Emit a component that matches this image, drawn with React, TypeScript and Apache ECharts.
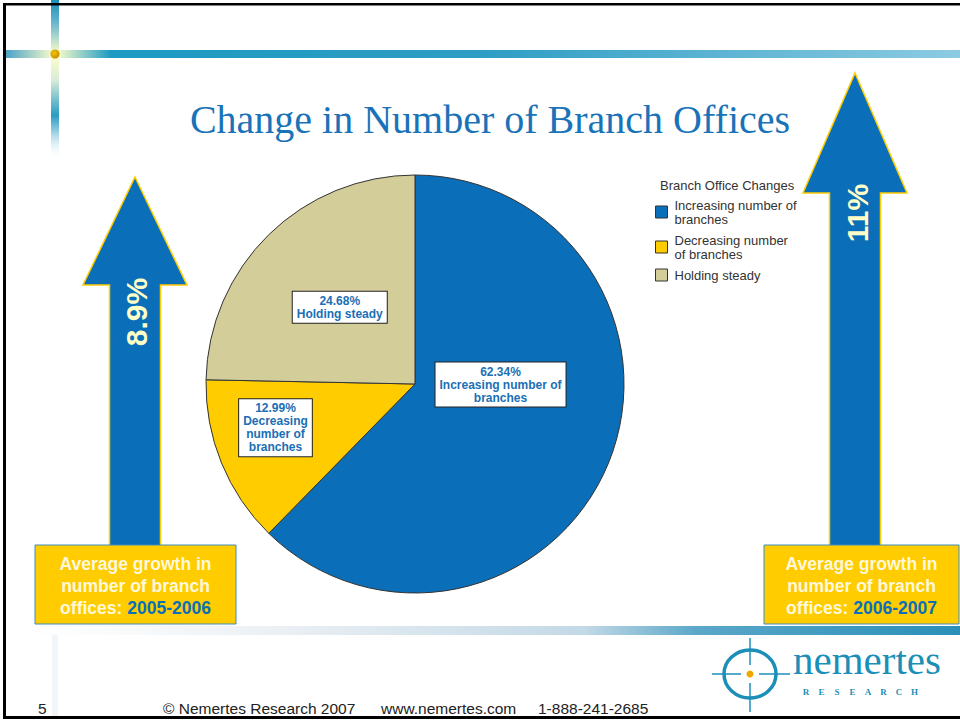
import React, { useEffect, useRef } from "react";
import * as echarts from "echarts";

// ---- data ----
const categories = [
  "Increasing number of branches",
  "Decreasing number of branches",
  "Holding steady",
];
const values = [62.34, 12.99, 24.68];
const legendLabels = [
  "Increasing number of\nbranches",
  "Decreasing number\nof branches",
  "Holding steady",
];
const sliceLabels = [
  "Increasing number of\nbranches",
  "Decreasing\nnumber of\nbranches",
  "Holding steady",
];
const sliceColors = ["#0a6fb8", "#ffcc00", "#d3cd9a"];
const growthValues = ["8.9%", "11%"];
const growthPeriods = ["2005-2006", "2006-2007"];
const chartTitle = "Change in Number of Branch Offices";
const legendTitle = "Branch Office Changes";
const footerParts = ["© Nemertes Research 2007", "www.nemertes.com", "1-888-241-2685"];
const pageNumber = "5";

// label nudges (style)
const labelNudges = [
  [-14, -40],
  [-40, 3],
  [0, 0],
];

const BLUE = "#0a6fb8";
const GOLD = "#ffcc00";
const TEAL = "#1c8fb8";

function arrow(x: number, tipY: number, headY: number, bottomY: number, headHalf: number, shaftHalf: number) {
  return {
    type: "polygon",
    shape: {
      points: [
        [x, tipY],
        [x + headHalf, headY],
        [x + shaftHalf, headY],
        [x + shaftHalf, bottomY],
        [x - shaftHalf, bottomY],
        [x - shaftHalf, headY],
        [x - headHalf, headY],
      ],
    },
    style: { fill: BLUE, stroke: GOLD, lineWidth: 1.5 },
    z: 5,
  };
}

function growthBox(x: number, y: number, w: number, h: number, period: string) {
  return [
    {
      type: "rect",
      shape: { x, y, width: w, height: h },
      style: { fill: GOLD, stroke: "#3a8cc0", lineWidth: 1 },
      z: 6,
    },
    {
      type: "text",
      x: x + w / 2,
      y: y + h / 2 + 1,
      z: 7,
      style: {
        text: "Average growth in\nnumber of branch\noffices: {p|" + period + "}",
        align: "center",
        verticalAlign: "middle",
        fill: "#fff8dc",
        fontSize: 17.5,
        fontWeight: "bold",
        fontFamily: "Arial, 'Liberation Sans', sans-serif",
        lineHeight: 22,
        rich: {
          p: {
            fill: BLUE,
            fontSize: 17.5,
            fontWeight: "bold",
            fontFamily: "Arial, 'Liberation Sans', sans-serif",
            lineHeight: 22,
          },
        },
      },
    },
  ];
}

function logo() {
  const cx = 750;
  const cy = 674;
  const els: any[] = [
    {
      type: "ellipse",
      shape: { cx, cy, rx: 26, ry: 24 },
      style: { fill: "none", stroke: TEAL, lineWidth: 3.5 },
      z: 5,
    },
    {
      type: "line",
      shape: { x1: cx, y1: 638, x2: cx, y2: 665 },
      style: { stroke: TEAL, lineWidth: 1.5 },
      z: 5,
    },
    {
      type: "line",
      shape: { x1: cx, y1: 683, x2: cx, y2: 712 },
      style: { stroke: TEAL, lineWidth: 1.5 },
      z: 5,
    },
    {
      type: "line",
      shape: { x1: 712, y1: cy, x2: 741, y2: cy },
      style: { stroke: TEAL, lineWidth: 1.5 },
      z: 5,
    },
    {
      type: "line",
      shape: { x1: 759, y1: cy, x2: 790, y2: cy },
      style: { stroke: TEAL, lineWidth: 1.5 },
      z: 5,
    },
    {
      type: "circle",
      shape: { cx, cy, r: 3.5 },
      style: { fill: "#f0a800" },
      z: 6,
    },
    {
      type: "text",
      x: 793,
      y: 680,
      z: 6,
      style: {
        text: "nemertes",
        fill: TEAL,
        fontSize: 41,
        fontFamily: "'Liberation Serif', 'Times New Roman', serif",
        align: "left",
        verticalAlign: "bottom",
      },
    },
  ];
  const letters = "RESEARCH".split("");
  letters.forEach((ch, i) => {
    els.push({
      type: "text",
      x: 806 + i * 15.5,
      y: 692,
      z: 6,
      style: {
        text: ch,
        fill: TEAL,
        fontSize: 9,
        fontWeight: "bold",
        fontFamily: "'Liberation Serif', serif",
        align: "center",
        verticalAlign: "middle",
      },
    });
  });
  return els;
}

export default function App() {
  const ref = useRef<HTMLDivElement>(null);

  useEffect(() => {
    if (!ref.current) return;
    const chart = echarts.init(ref.current, null, { renderer: "svg" });

    const graphics: any[] = [
      // frame
      { type: "rect", shape: { x: 3, y: 3, width: 957, height: 2.5 }, style: { fill: "#000" }, z: 10 },
      { type: "rect", shape: { x: 3, y: 3, width: 3, height: 716 }, style: { fill: "#000" }, z: 10 },
      { type: "rect", shape: { x: 3, y: 716, width: 957, height: 3 }, style: { fill: "#000" }, z: 10 },
      // top decorative bar
      {
        type: "rect",
        shape: { x: 6, y: 50, width: 954, height: 8 },
        style: {
          fill: new echarts.graphic.LinearGradient(0, 0, 1, 0, [
            { offset: 0, color: "#4aa3c6" },
            { offset: 0.052, color: "#ffffcc" },
            { offset: 0.11, color: "#1d9ac2" },
            { offset: 0.5, color: "#2e9dc4" },
            { offset: 1, color: "#8ccbe2" },
          ]),
        },
        z: 1,
      },
      {
        type: "rect",
        shape: { x: 51, y: 0, width: 8, height: 160 },
        style: {
          fill: new echarts.graphic.LinearGradient(0, 0, 0, 1, [
            { offset: 0, color: "#1b8fb5" },
            { offset: 0.12, color: "#5aaecc" },
            { offset: 0.34, color: "#ffffcc" },
            { offset: 0.5, color: "#d8ecd8" },
            { offset: 0.72, color: "#2a9cc3" },
            { offset: 0.85, color: "#b6dcea" },
            { offset: 1, color: "rgba(255,255,255,0)" },
          ]),
        },
        z: 1,
      },
      {
        type: "circle",
        shape: { cx: 55, cy: 54, r: 4.5 },
        style: {
          fill: new echarts.graphic.RadialGradient(0.4, 0.4, 0.6, [
            { offset: 0, color: "#f5c400" },
            { offset: 1, color: "#c89000" },
          ]),
        },
        z: 2,
      },
      // bottom decorative bar
      {
        type: "rect",
        shape: { x: 20, y: 626, width: 940, height: 9 },
        style: {
          fill: new echarts.graphic.LinearGradient(0, 0, 1, 0, [
            { offset: 0, color: "rgba(240,244,248,0)" },
            { offset: 0.3, color: "#e8eef3" },
            { offset: 0.6, color: "#c3d9e6" },
            { offset: 0.72, color: "#5aa7c9" },
            { offset: 1, color: "#2a8fb8" },
          ]),
        },
        z: 1,
      },
      {
        type: "rect",
        shape: { x: 52, y: 635, width: 6, height: 81 },
        style: { fill: "#f3f6f9" },
        z: 1,
      },
      // arrows
      arrow(135, 177, 285, 546, 52, 25.5),
      arrow(855, 73, 193, 546, 52, 25.5),
      {
        type: "text",
        x: 136,
        y: 312,
        rotation: Math.PI / 2,
        z: 7,
        style: {
          text: growthValues[0],
          fill: "#ffffc8",
          fontSize: 30,
          fontWeight: "bold",
          fontFamily: "Arial, 'Liberation Sans', sans-serif",
          align: "center",
          verticalAlign: "middle",
        },
      },
      {
        type: "text",
        x: 857,
        y: 213,
        rotation: Math.PI / 2,
        z: 7,
        style: {
          text: growthValues[1],
          fill: "#ffffc8",
          fontSize: 30,
          fontWeight: "bold",
          fontFamily: "Arial, 'Liberation Sans', sans-serif",
          align: "center",
          verticalAlign: "middle",
        },
      },
      ...growthBox(35, 545, 201, 79, growthPeriods[0]),
      ...growthBox(764, 545, 195, 79, growthPeriods[1]),
      ...logo(),
      // footer
      {
        type: "text",
        x: 38,
        y: 708,
        style: {
          text: pageNumber,
          fill: "#222",
          fontSize: 15.5,
          fontFamily: "Arial, 'Liberation Sans', sans-serif",
          verticalAlign: "middle",
        },
      },
      ...footerParts.map((t, i) => ({
        type: "text",
        x: [163, 381, 538][i],
        y: 708,
        style: {
          text: t,
          fill: "#222",
          fontSize: 15.5,
          fontFamily: "Arial, 'Liberation Sans', sans-serif",
          verticalAlign: "middle",
        },
      })),
    ];

    const option: any = {
      animation: false,
      backgroundColor: "#ffffff",
      title: [
        {
          text: chartTitle,
          left: 490,
          top: 99,
          textAlign: "center",
          padding: 0,
          textStyle: {
            color: "#1a73b8",
            fontSize: 40,
            fontWeight: "normal",
            fontFamily: "'Liberation Serif', 'Times New Roman', serif",
          },
        },
        {
          text: legendTitle,
          left: 660,
          top: 179,
          padding: 0,
          textStyle: {
            color: "#333",
            fontSize: 13,
            fontWeight: "normal",
            fontFamily: "Arial, 'Liberation Sans', sans-serif",
          },
        },
      ],
      legend: {
        orient: "vertical",
        left: 655,
        top: 198,
        padding: 0,
        itemGap: 7,
        itemWidth: 12,
        itemHeight: 12,
        icon: "rect",
        itemStyle: { borderColor: "#333", borderWidth: 1 },
        data: categories,
        formatter: (name: string) => legendLabels[categories.indexOf(name)],
        textStyle: {
          color: "#333",
          fontSize: 13,
          lineHeight: 14,
          fontFamily: "Arial, 'Liberation Sans', sans-serif",
          padding: [0, 0, 0, 2],
        },
      },
      series: [
        {
          type: "pie",
          center: [415, 384],
          radius: 209,
          startAngle: 90,
          clockwise: true,
          silent: true,
          itemStyle: { borderColor: "#333", borderWidth: 1 },
          label: {
            show: true,
            position: "inside",
            formatter: (p: any) => p.value.toFixed(2) + "%\n" + sliceLabels[p.dataIndex],
            color: "#1a6fb5",
            fontSize: 12,
            fontWeight: "bold",
            lineHeight: 13,
            fontFamily: "Arial, 'Liberation Sans', sans-serif",
            backgroundColor: "#ffffff",
            borderColor: "#222",
            borderWidth: 1,
            padding: [3, 4, 2, 4],
            align: "center",
          },
          labelLine: { show: false },
          labelLayout: (p: any) => ({ dx: labelNudges[p.dataIndex][0], dy: labelNudges[p.dataIndex][1] }),
          data: categories.map((c, i) => ({
            name: c,
            value: values[i],
            itemStyle: { color: sliceColors[i] },
          })),
        },
      ],
      graphic: graphics,
    };

    chart.setOption(option);
    return () => chart.dispose();
  }, []);

  return (
    <div
      ref={ref}
      style={{ position: "fixed", left: 0, top: 0, width: 960, height: 721 }}
    />
  );
}
